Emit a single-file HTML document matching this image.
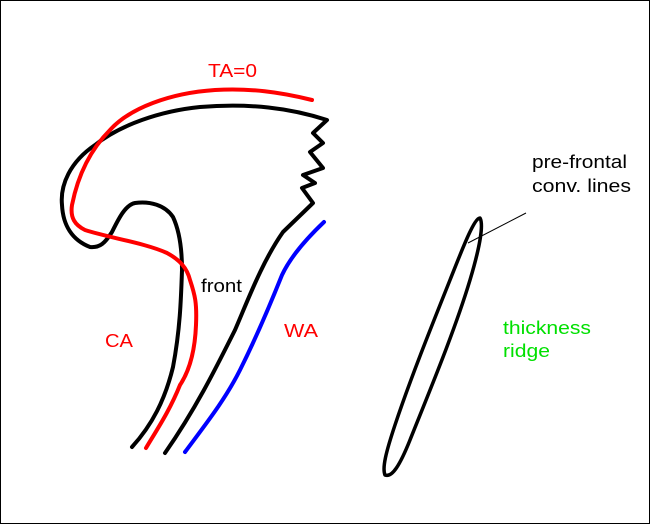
<!DOCTYPE html>
<html><head><style>
html,body{margin:0;padding:0;background:#fff;}
svg{display:block;}
text{font-family:"Liberation Sans",sans-serif;font-size:18px;}
</style></head><body>
<svg width="650" height="524" viewBox="0 0 650 524" xmlns="http://www.w3.org/2000/svg">
<rect x="0.5" y="0.5" width="649" height="523" fill="#fff" stroke="#000"/>
<g fill="none" stroke-width="4" stroke-linejoin="round" stroke-linecap="round">
<path stroke="#000" d="M165,453 C195,410 215,370 235,330 C248,300 262,262 283,232 L313,203 L302,188 L315,183 L303,175 L323,168 L310,152 L323,143 L313,133 L327,120 C290,108 250,103 200,107 C160,111 120,125 95,145 C70,162 60,185 62,205 C63,225 72,240 90,247 C100,248 105,243 112,232 C118,220 125,205 135,203 C150,201 165,205 173,217 C180,232 182,250 182,270 C181,300 180,330 173,367 C165,400 152,425 132,447"/>
<path stroke="#f00" d="M312,100 C280,92 250,88 215,90 C170,93 130,108 110,130 C90,150 78,175 72,205 C70,218 75,225 85,230 C110,238 145,243 167,253 C180,260 187,268 190,280 C195,295 197,303 196,325 C195,350 190,370 180,385 C170,410 158,428 146,448"/>
<path stroke="#00f" d="M324,222 C305,240 290,258 282,275 C270,305 255,340 240,370 C225,400 205,425 185,452"/>
<path stroke="#000" stroke-width="3.5" d="M480,218 C484,225 479,250 470,280 C455,330 430,390 410,440 C400,465 392,478 385,475 C382,468 386,452 395,425 C410,380 430,330 450,280 C462,250 474,218 480,218 Z"/>
</g>
<line x1="468" y1="243" x2="526" y2="213" stroke="#000" stroke-width="1"/>
<text x="208" y="77" fill="#f00" textLength="49" lengthAdjust="spacingAndGlyphs">TA=0</text>
<text x="201" y="292" fill="#000" textLength="41" lengthAdjust="spacingAndGlyphs">front</text>
<text x="105" y="347" fill="#f00" textLength="28" lengthAdjust="spacingAndGlyphs">CA</text>
<text x="284" y="337" fill="#f00" textLength="34" lengthAdjust="spacingAndGlyphs">WA</text>
<text x="532" y="168" fill="#000" textLength="95" lengthAdjust="spacingAndGlyphs">pre-frontal</text>
<text x="532" y="192" fill="#000" textLength="99" lengthAdjust="spacingAndGlyphs">conv. lines</text>
<text x="503" y="334" fill="#00e000" textLength="88" lengthAdjust="spacingAndGlyphs">thickness</text>
<text x="503" y="357" fill="#00e000" textLength="47" lengthAdjust="spacingAndGlyphs">ridge</text>
</svg>
</body></html>
